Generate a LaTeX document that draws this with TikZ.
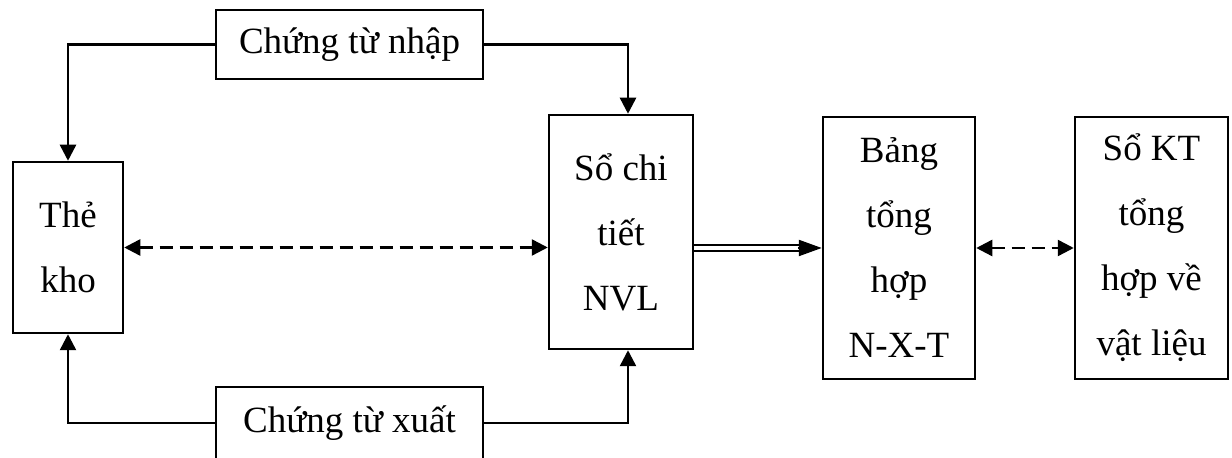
\documentclass[tikz,border=0pt]{standalone}
\usepackage{fontspec}
\setmainfont{Liberation Serif}
\usetikzlibrary{arrows.meta}
\tikzset{
  box/.style={draw, line width=1.25pt, inner sep=0pt, align=center,
    font=\fontsize{18.5}{32.5}\selectfont},
  arr/.style={line width=1.25pt, -{Triangle[length=8pt,width=8pt]}},
  dasharr/.style={line width=1.25pt, dash pattern=on 6.5pt off 3.5pt,
    {Triangle[length=8pt,width=8pt]}-{Triangle[length=8pt,width=8pt]}},
  dbl/.style={double, double distance=1.8pt, line width=1.1pt},
  bigtip/.style={line width=1.1pt, -{Triangle[length=11.5pt,width=8pt]}}
}
\begin{document}
\begin{tikzpicture}[x=0.5pt, y=-0.5pt]
  \useasboundingbox (0,0) rectangle (1232,458);

  \node[box, minimum width=55pt, minimum height=85.5pt] (the) at (68,247.5) {Thẻ\\kho};
  \node[box, minimum width=133.5pt, minimum height=34.5pt] (nhap) at (349.5,44.5) {Chứng từ nhập};
  \node[box, minimum width=133.5pt, minimum height=36pt] (xuat) at (349.5,423) {Chứng từ xuất};
  \node[box, minimum width=72pt, minimum height=117pt] (soct) at (621,232) {Sổ chi\\tiết\\NVL};
  \node[box, minimum width=76pt, minimum height=131pt] (bang) at (899,248) {Bảng\\tổng\\hợp\\N-X-T};
  \node[box, minimum width=76.5pt, minimum height=131pt] (sokt) at (1151.5,248) {Sổ KT\\tổng\\hợp về\\vật liệu};

  \draw[arr] (nhap.west) -| (the.north);
  \draw[arr] (nhap.east) -| ([xshift=3.5pt]soct.north);
  \draw[arr] (xuat.west) -| (the.south);
  \draw[arr] (xuat.east) -| ([xshift=3.5pt]soct.south);

  \draw[dasharr] (the.east) -- (the.east -| soct.west);
  \draw[dbl, shorten >=10pt] (soct.east |- bang.west) -- (bang.west);
  \draw[bigtip] ([xshift=-12pt]bang.west) -- (bang.west);
  \draw[dasharr] (bang.east) -- (sokt.west);
\end{tikzpicture}
\end{document}
